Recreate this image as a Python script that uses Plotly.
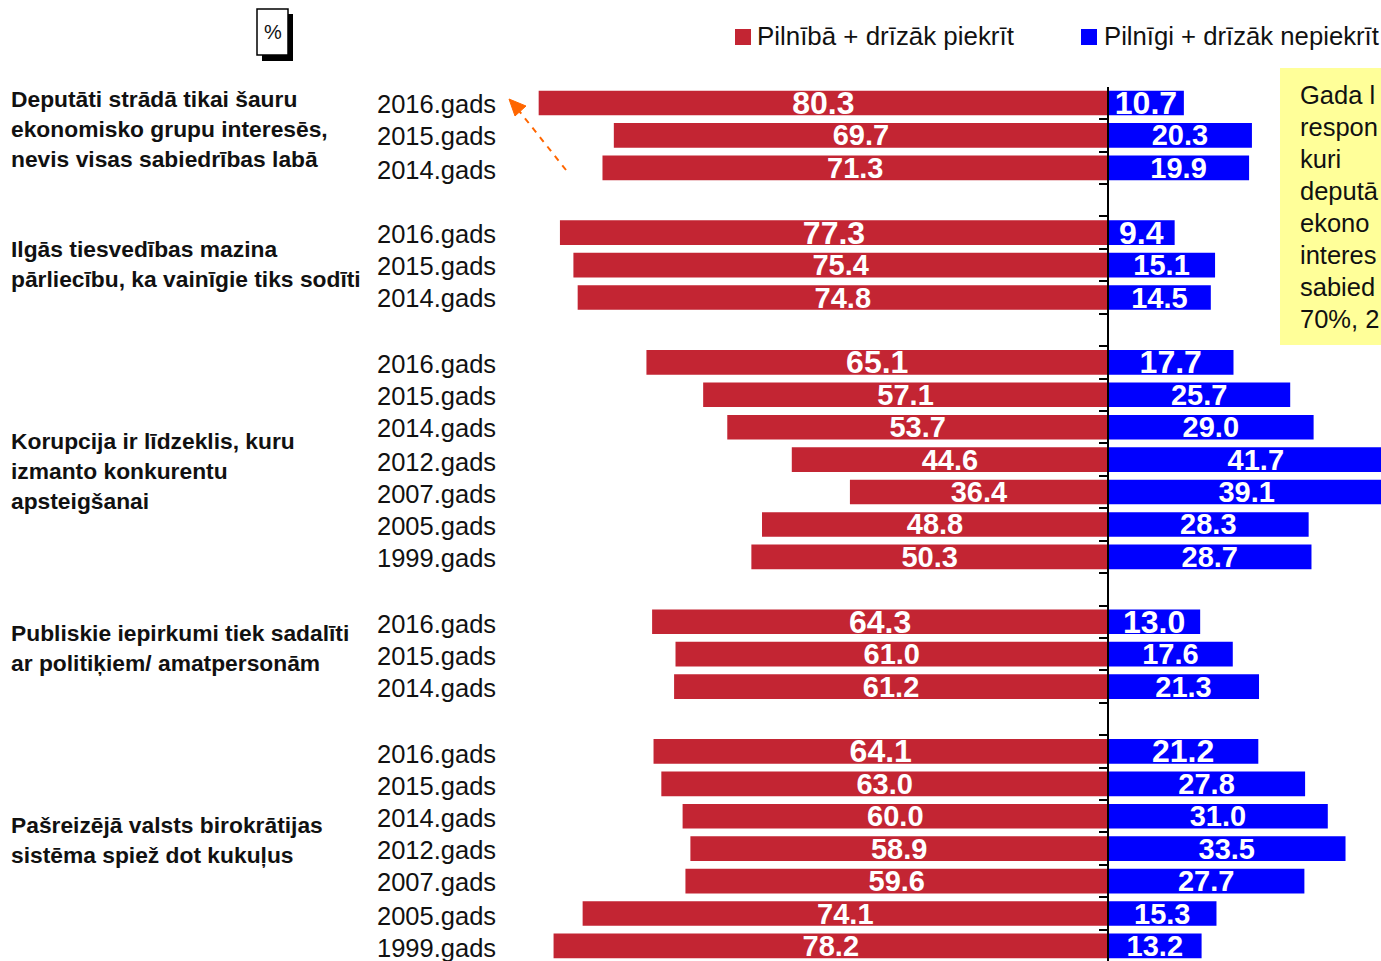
import plotly.graph_objects as go

years = ["2016.gads","2015.gads","2014.gads","",
         "2016.gads","2015.gads","2014.gads","",
         "2016.gads","2015.gads","2014.gads","2012.gads","2007.gads","2005.gads","1999.gads","",
         "2016.gads","2015.gads","2014.gads","",
         "2016.gads","2015.gads","2014.gads","2012.gads","2007.gads","2005.gads","1999.gads"]
agree = [80.3,69.7,71.3,None,
         77.3,75.4,74.8,None,
         65.1,57.1,53.7,44.6,36.4,48.8,50.3,None,
         64.3,61.0,61.2,None,
         64.1,63.0,60.0,58.9,59.6,74.1,78.2]
disagree = [10.7,20.3,19.9,None,
            9.4,15.1,14.5,None,
            17.7,25.7,29.0,41.7,39.1,28.3,28.7,None,
            13.0,17.6,21.3,None,
            21.2,27.8,31.0,33.5,27.7,15.3,13.2]
statements = [
    (99, "Deputāti strādā tikai šauru"), (129, "ekonomisko grupu interesēs,"), (159, "nevis visas sabiedrības labā"),
    (249, "Ilgās tiesvedības mazina"), (279, "pārliecību, ka vainīgie tiks sodīti"),
    (441, "Korupcija ir līdzeklis, kuru"), (471, "izmanto konkurentu"), (501, "apsteigšanai"),
    (633, "Publiskie iepirkumi tiek sadalīti"), (663, "ar politiķiem/ amatpersonām"),
    (825, "Pašreizējā valsts birokrātijas"), (855, "sistēma spiež dot kukuļus"),
]
note_lines = ["Gada l","respon","kuri","deputā","ekono","interes","sabied","70%, 2"]
year_shift = [1,1,2,0,1,1,0,0,2,1,1,2,2,2,1,0,2,2,1,0,3,2,2,1,1,2,2]
legend_names = ["Pilnībā + drīzāk piekrīt","Pilnīgi + drīzāk nepiekrīt"]

W, H = 1381, 961
RED, BLUE = "#C32533", "#0000FF"
FONT = "Liberation Sans"
rows = list(range(len(years)))
# pixel mapping: x=0 at 1108 px, 7.09 px per unit; row 0 at 103 px, 32.42 px per row
PX = 7.09; X0 = 1108
PY = 32.42; Y0 = 103
x_range = [-X0/PX, (W-X0)/PX]
TOP = 87
y_range = [(H-Y0)/PY, (TOP-Y0)/PY]

def lab(vals): return [("" if v is None else f"{v:.1f}") for v in vals]
big = [32 if y == "2016.gads" else 29 for y in years]

fig = go.Figure()
fig.add_bar(y=rows, x=[None if v is None else -v for v in agree], orientation="h", name=legend_names[0],
            marker=dict(color=RED, line_width=0), width=0.76, text=lab(agree),
            textposition="inside", insidetextanchor="middle", textangle=0, constraintext="none",
            insidetextfont=dict(family=FONT, size=big, color="white", weight="bold"), hoverinfo="skip")
fig.add_bar(y=rows, x=disagree, orientation="h", name=legend_names[1],
            marker=dict(color=BLUE, line_width=0), width=0.76, text=lab(disagree),
            textposition="inside", insidetextanchor="middle", textangle=0, constraintext="none",
            insidetextfont=dict(family=FONT, size=big, color="white", weight="bold"), hoverinfo="skip")

def px(x): return x/W
def py(y): return 1-y/H
ann = []
for r, y, s in zip(rows, years, year_shift):
    if y:
        ann.append(dict(x=px(375), xref="paper", y=r, yref="y", yshift=-s, text=y, showarrow=False,
                        xanchor="left", yanchor="middle", font=dict(family=FONT, size=25.5, color="#111")))
for yy, t in statements:
    ann.append(dict(x=px(9), xref="paper", y=py(yy), yref="paper", text=f"<b>{t}</b>", showarrow=False,
                    xanchor="left", yanchor="middle", font=dict(family=FONT, size=22.8, color="#111")))
for i, t in enumerate(note_lines):
    ann.append(dict(x=px(1298), xref="paper", y=py(95+i*32), yref="paper", text=t, showarrow=False,
                    xanchor="left", yanchor="middle", font=dict(family=FONT, size=25.5, color="#111")))
ann.append(dict(x=px(755), xref="paper", y=py(36), yref="paper", text=legend_names[0], showarrow=False,
                xanchor="left", yanchor="middle", font=dict(family=FONT, size=25.9, color="#111")))
ann.append(dict(x=px(1102), xref="paper", y=py(36), yref="paper", text=legend_names[1], showarrow=False,
                xanchor="left", yanchor="middle", font=dict(family=FONT, size=25.7, color="#111")))
ann.append(dict(x=px(273), xref="paper", y=py(32), yref="paper", text="%", showarrow=False,
                xanchor="center", yanchor="middle", font=dict(family=FONT, size=20, color="#111")))

def rect(x0,y0,x1,y1,fill,line=None,lw=0):
    return dict(type="rect", xref="paper", yref="paper", x0=px(x0), x1=px(x1), y0=py(y0), y1=py(y1),
                fillcolor=fill, line=dict(color=line or fill, width=lw), layer="above")
shapes = [rect(1280,68,1400,345,"#FFFF99"),
          rect(735,29,751,45,RED), rect(1081,29,1097,45,BLUE),
          rect(262,14,293,61,"black"), rect(257,9,288,55,"white","black",1.5),
          dict(type="line", xref="paper", yref="paper", x0=px(566), y0=py(170), x1=px(516), y1=py(107),
               line=dict(color="#FF6600", width=2, dash="6px,6px")),
          dict(type="path", xref="paper", yref="paper", fillcolor="#FF6600", line=dict(color="#FF6600", width=1),
               path=f"M {px(509)} {py(99)} L {px(526)} {py(106)} L {px(515)} {py(116)} Z")]

fig.update_layout(
    width=W, height=H, margin=dict(l=0,r=0,t=0,b=0), paper_bgcolor="white", plot_bgcolor="white",
    barmode="relative", showlegend=False, annotations=ann, shapes=shapes,
    xaxis=dict(range=x_range, domain=[0,1], showgrid=False, zeroline=False, visible=False),
    yaxis=dict(range=y_range, domain=[0,(H-TOP)/H], anchor="free", position=X0/W, side="left",
               showgrid=False, zeroline=False, showline=True, linecolor="black", linewidth=2,
               ticks="outside", ticklen=8, tickwidth=2, tickcolor="black",
               tickvals=[r-0.5 for r in rows], showticklabels=False),
)
fig.write_html("out.html", config={"displayModeBar": False},
               post_script="document.body.style.margin='0';document.body.style.overflow='hidden';")
